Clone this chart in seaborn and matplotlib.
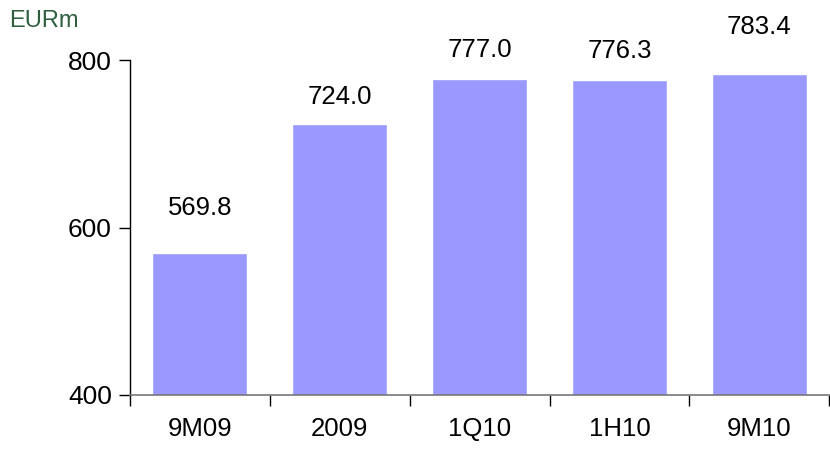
import matplotlib
matplotlib.use("Agg")
import matplotlib.pyplot as plt
import seaborn as sns
import pandas as pd
import numpy as np

categories = ["9M09", "2009", "1Q10", "1H10", "9M10"]
values = [569.8, 724.0, 777.0, 776.3, 783.4]
y_ticks = [400, 600, 800]
unit_label = "EURm"

# label gap above each bar (pixels), as placed in the original
label_gap_px = [38, 20, 22, 22, 40]

sns.set_theme(style="white")
plt.rcParams['font.family'] = ['Liberation Sans', 'DejaVu Sans']
plt.rcParams['text.color'] = 'black'
plt.rcParams['xtick.color'] = 'black'
plt.rcParams['ytick.color'] = 'black'

df = pd.DataFrame({"cat": categories, "val": values})

fig = plt.figure(figsize=(8.3, 4.51), dpi=100)
ax = fig.add_axes([130/830, (451-395)/451, 1 - 130/830 - 0.001, (395-60)/451])

sns.barplot(data=df, x="cat", y="val", color="#9999FF", saturation=1, width=0.68, ax=ax)

ax.set_ylim(400, 800)
ax.set_xlim(-0.5, len(categories) - 0.5)
ax.set_yticks(y_ticks)
ax.set_yticklabels([str(t) for t in y_ticks], fontsize=19, color="black")
ax.set_xlabel("")
ax.set_ylabel("")

ax.set_xticks(np.arange(len(categories)))
ax.set_xticklabels(categories, fontsize=18.5, color="black")
ax.set_xticks(np.arange(len(categories) + 1) - 0.5, minor=True)
ax.tick_params(axis="x", which="major", length=0, pad=16)
ax.tick_params(axis="x", which="minor", length=8, width=1, color="black", direction="out", bottom=True)
ax.tick_params(axis="y", length=8, width=1, color="black", direction="out", left=True, pad=5)

for s in ["top", "right"]:
    ax.spines[s].set_visible(False)
ax.spines["left"].set_color("black")
ax.spines["left"].set_linewidth(1)
ax.spines["bottom"].set_color("#777777")
ax.spines["bottom"].set_linewidth(1.2)

for i, v in enumerate(values):
    ax.annotate(f"{v:.1f}", xy=(i, v), xytext=(0, label_gap_px[i] * 72 / 100), textcoords="offset points",
                ha="center", va="baseline", fontsize=18.5, color="black", annotation_clip=False)

fig.text(9/830, 1 - 21/451, unit_label, fontsize=17, color="#2E5E3E", ha="left", va="center")

fig.savefig("out.png", dpi=100)
